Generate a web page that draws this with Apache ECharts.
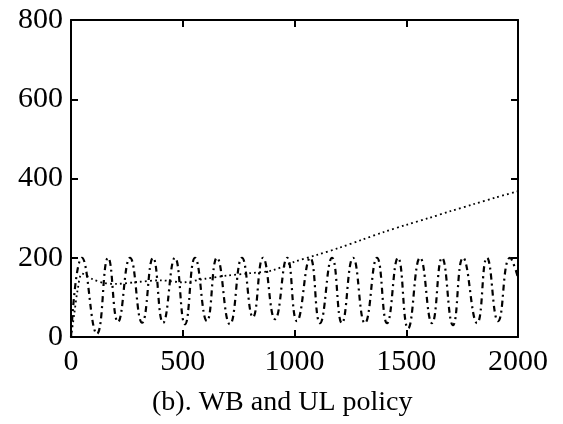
<!DOCTYPE html>
<html>
<head>
<meta charset="utf-8">
<script src="https://cdn.jsdelivr.net/npm/echarts@6/dist/echarts.min.js"></script>
<style>
  html, body { margin: 0; padding: 0; background: #fff; }
  #chart { width: 563px; height: 424px; }
</style>
</head>
<body>
<div id="chart"></div>
<script>
// Axis ticks
const xTicks = [0, 500, 1000, 1500, 2000];
const yTicks = [0, 200, 400, 600, 800];

// Oscillating series (dash-dot): start, alternating peaks and troughs, end
const waveX = [0, 49, 116, 166, 210, 264, 318, 367, 412, 465, 510, 555, 608, 653, 711, 765, 814, 859, 913, 967, 1011, 1070, 1114, 1168, 1212, 1262, 1315, 1369, 1414, 1463, 1508, 1562, 1615, 1660, 1709, 1754, 1817, 1861, 1911, 1964, 2000];
const waveY = [0, 200, 8, 200, 38, 200, 36, 200, 36, 200, 32, 200, 40, 200, 32, 200, 50, 200, 45, 200, 40, 200, 35, 200, 35, 200, 35, 200, 35, 200, 22, 200, 35, 200, 30, 200, 35, 200, 40, 200, 150];

// Slowly rising series (dotted)
const trendX = [0, 15, 30, 50, 100, 150, 200, 300, 400, 500, 600, 700, 800, 900, 1000, 1100, 1200, 1300, 1400, 1500, 1600, 1700, 1800, 1900, 2000];
const trendY = [0, 60, 120, 160, 145, 136, 134, 139, 143, 138, 147, 155, 161, 168, 190, 207, 225, 245, 265, 283, 300, 318, 335, 352, 368];

const caption = '(b). WB and UL policy';

const font = '"Liberation Serif", "Times New Roman", serif';
const pair = (xs, ys) => xs.map((x, i) => [x, ys[i]]);

function axis(extra) {
  return Object.assign({
    type: 'value',
    axisLine: { show: true, onZero: false, lineStyle: { color: '#000', width: 2 } },
    axisTick: { show: true, inside: true, length: 7, lineStyle: { color: '#000', width: 2 } },
    splitLine: { show: false }
  }, extra);
}
const label = (margin) => ({
  color: '#000', fontFamily: font, fontSize: 30, margin: margin,
  formatter: (v) => String(v)
});

const xMin = xTicks[0], xMax = xTicks[xTicks.length - 1];
const yMin = yTicks[0], yMax = yTicks[yTicks.length - 1];

const chart = echarts.init(document.getElementById('chart'), null, { renderer: 'canvas' });
chart.setOption({
  animation: false,
  backgroundColor: '#fff',
  grid: { left: 71, right: 45, top: 20, bottom: 87, containLabel: false },
  xAxis: [
    axis({ position: 'bottom', min: xMin, max: xMax, interval: 500, axisLabel: label(10) }),
    axis({ position: 'top', min: xMin, max: xMax, interval: 500, axisLabel: { show: false } })
  ],
  yAxis: [
    axis({ position: 'left', min: yMin, max: yMax, interval: 200, axisLabel: label(8) }),
    axis({ position: 'right', min: yMin, max: yMax, interval: 200, axisLabel: { show: false } })
  ],
  series: [
    {
      type: 'line',
      data: pair(waveX, waveY),
      smooth: 0.5,
      showSymbol: false,
      lineStyle: { color: '#000', width: 2.2, type: [6, 4, 2, 4] }
    },
    {
      type: 'line',
      data: pair(trendX, trendY),
      smooth: 0.3,
      showSymbol: false,
      lineStyle: { color: '#000', width: 1.8, type: [1.8, 3.2] }
    }
  ],
  graphic: [{
    type: 'text',
    left: 152,
    top: 389,
    style: { text: caption, fontFamily: font, fontSize: 28, fill: '#000' }
  }]
});
</script>
</body>
</html>
